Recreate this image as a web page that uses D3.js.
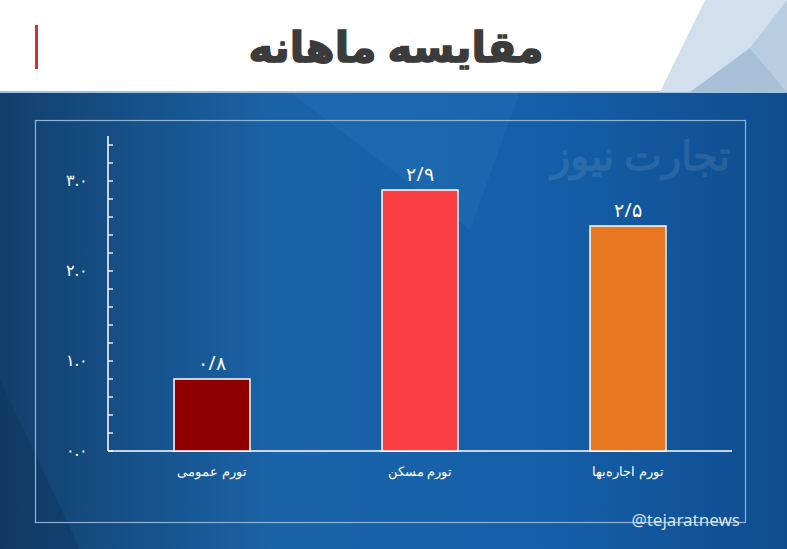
<!DOCTYPE html>
<html><head><meta charset="utf-8">
<script src="https://cdn.jsdelivr.net/npm/d3@7"></script>
<style>body{margin:0;overflow:hidden}</style></head>
<body><svg id="c" width="787" height="549"></svg>
<script>
const categories = ["تورم عمومی", "تورم مسکن", "تورم اجاره‌بها"];
const values = [0.8, 2.9, 2.5];
const valueLabels = ["۰/۸", "۲/۹", "۲/۵"];
const colors = ["#8e0000", "#fc3f45", "#e87722"];
const tickValues = [0, 1, 2, 3];
const tickLabels = ["۰.۰", "۱.۰", "۲.۰", "۳.۰"];
const title = "مقایسه ماهانه";

const svg = d3.select("#c");
const defs = svg.append("defs");
const g = defs.append("linearGradient").attr("id","bg").attr("x1",0).attr("x2",1).attr("y1",0).attr("y2",0);
g.append("stop").attr("offset","0").attr("stop-color","#123f6b");
g.append("stop").attr("offset","0.35").attr("stop-color","#1a63a8");
g.append("stop").attr("offset","0.7").attr("stop-color","#145fa8");
g.append("stop").attr("offset","1").attr("stop-color","#0f4c8e");
svg.append("rect").attr("x",0).attr("y",92).attr("width",787).attr("height",457).attr("fill","url(#bg)");
svg.append("polygon").attr("points","0,380 0,549 80,549").attr("fill","#0e3560").attr("opacity",0.5);
svg.append("polygon").attr("points","290,92 520,92 470,230").attr("fill","#2a7ac0").attr("opacity",0.25);
svg.append("rect").attr("x",0).attr("y",0).attr("width",787).attr("height",92).attr("fill","#fff");
svg.append("rect").attr("x",0).attr("y",91).attr("width",787).attr("height",2).attr("fill","#9ec3e6");
svg.append("polygon").attr("points","660,92 705,0 787,0 787,92").attr("fill","#d2dfec");
svg.append("polygon").attr("points","690,92 750,48 787,92").attr("fill","#a8bfd8");
svg.append("polygon").attr("points","750,48 787,0 787,92").attr("fill","#b9cde2");
svg.append("rect").attr("x",35).attr("y",25).attr("width",3).attr("height",44).attr("fill","#e02a35");
svg.append("text").attr("x",396).attr("y",62).attr("text-anchor","middle").attr("font-family","Noto Sans, DejaVu Sans").attr("font-weight",900).attr("font-size",42).attr("fill","#3b3b3b").attr("stroke","#3b3b3b").attr("stroke-width",1.5).attr("direction","rtl").text(title);

svg.append("rect").attr("x",35.5).attr("y",120.5).attr("width",710).attr("height",402).attr("fill","none").attr("stroke","#8fb3d6").attr("stroke-width",1.2);
svg.append("text").attr("x",730).attr("y",170).attr("text-anchor","start").attr("font-family","Noto Sans").attr("font-weight",900).attr("font-size",40).attr("fill","#ffffff").attr("opacity",0.09).attr("direction","rtl").text("تجارت نیوز");
svg.append("text").attr("x",740).attr("y",526).attr("text-anchor","end").attr("font-family","Noto Sans").attr("font-size",17).attr("fill","#d5e2ef").text("@tejaratnews");

const y = d3.scaleLinear().domain([0,3.5]).range([451,136]);
const x = d3.scaleBand().domain(categories).range([108,732]).paddingInner(0.635).paddingOuter(0.3175);

const ax = svg.append("g").attr("transform","translate(108,0)");
ax.append("line").attr("x1",0).attr("x2",0).attr("y1",y(3.5)).attr("y2",y(0)).attr("stroke","#fff").attr("stroke-width",1.5);
ax.selectAll(".t").data(d3.range(0,3.41,0.2)).join("line").attr("x1",0).attr("x2",5).attr("y1",d=>y(d)).attr("y2",d=>y(d)).attr("stroke","#fff").attr("stroke-width",1.3);
ax.selectAll(".l").data(tickValues).join("text").attr("x",-20).attr("y",d=>y(d)+5).attr("text-anchor","end").attr("font-family","Noto Sans").attr("font-size",16).attr("fill","#fff").text((d,i)=>tickLabels[i]);
svg.append("line").attr("x1",108).attr("x2",732).attr("y1",y(0)).attr("y2",y(0)).attr("stroke","#fff").attr("stroke-width",1.5);

svg.selectAll(".bar").data(values).join("rect").attr("x",(d,i)=>x(categories[i])).attr("y",d=>y(d)).attr("width",x.bandwidth()).attr("height",d=>y(0)-y(d)).attr("fill",(d,i)=>colors[i]).attr("stroke","#fff").attr("stroke-width",1.5);
svg.selectAll(".vl").data(values).join("text").attr("x",(d,i)=>x(categories[i])+x.bandwidth()/2).attr("y",d=>y(d)-9).attr("text-anchor","middle").attr("font-family","Noto Sans").attr("font-size",19).attr("fill","#fff").text((d,i)=>valueLabels[i]);
svg.selectAll(".cl").data(categories).join("text").attr("x",d=>x(d)+x.bandwidth()/2).attr("y",476).attr("text-anchor","middle").attr("font-family","Noto Sans").attr("font-size",13).attr("fill","#fff").attr("direction","rtl").text(d=>d);
</script></body></html>
